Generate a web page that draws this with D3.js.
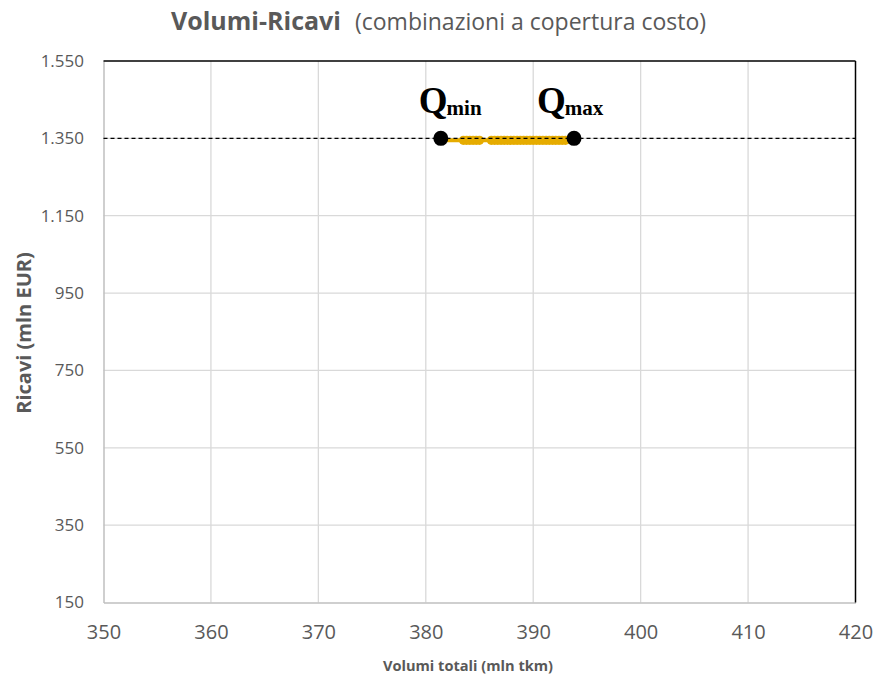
<!DOCTYPE html>
<html><head><meta charset="utf-8">
<script src="https://cdn.jsdelivr.net/npm/d3@7"></script>
<style>body{margin:0;background:#fff;}</style>
</head><body>
<svg id="c" width="875" height="677"></svg>
<script>
const xTicks = [350,360,370,380,390,400,410,420];
const yTicks = [150,350,550,750,950,1150,1350,1550];
const yTickLabels = ["150","350","550","750","950","1.150","1.350","1.550"];
const costLevel = 1350;
const comboX = [381.6,382.0,382.4,382.8,383.2,383.5,383.8,384.1,384.4,384.7,385.0,386.1,386.4,386.7,387.0,387.3,387.6,387.9,388.2,388.5,388.8,389.1,389.4,389.7,390.0,390.3,390.6,390.9,391.2,391.5,391.8,392.1,392.4,392.7,393.0,393.3];
const comboY = [1345,1345,1345,1345,1345,1345,1345,1345,1345,1345,1345,1345,1345,1345,1345,1345,1345,1345,1345,1345,1345,1345,1345,1345,1345,1345,1345,1345,1345,1345,1345,1345,1345,1345,1345,1345];
const comboMarker = [0,0,0,0,0,1,1,1,1,1,1,1,1,1,1,1,1,1,1,1,1,1,1,1,1,1,1,1,1,1,1,1,1,1,1,0];
const extremes = [{name:"min", x:381.4, y:1350},{name:"max", x:393.8, y:1350}];

const svg = d3.select("#c");
const L=103.5, R=855.5, T=61, B=602.5;
const x = d3.scaleLinear().domain([350,420]).range([L,R]);
const y = d3.scaleLinear().domain([150,1550]).range([B,T]);
const grid="#d9d9d9", txt="#595959";
const labelDx = {min:-22, max:-37};

// gridlines
svg.append("g").selectAll("line").data(xTicks.filter(d=>d>350&&d<420)).join("line")
  .attr("x1",d=>x(d)).attr("x2",d=>x(d)).attr("y1",T).attr("y2",B)
  .attr("stroke",grid).attr("stroke-width",1.3);
svg.append("g").selectAll("line").data(yTicks.filter(d=>d>150&&d<1550)).join("line")
  .attr("x1",L).attr("x2",R).attr("y1",d=>y(d)).attr("y2",d=>y(d))
  .attr("stroke",grid).attr("stroke-width",1.3);

// axes
const xAxis = d3.axisBottom(x).tickValues(xTicks).tickSize(0).tickPadding(22);
const gx = svg.append("g").attr("transform",`translate(0,${B})`).call(xAxis);
gx.attr("font-size",null);
gx.select(".domain").attr("stroke","#bfbfbf").attr("stroke-width",1.5);
gx.selectAll("text").attr("fill",txt).attr("font-family","Open Sans, sans-serif").attr("font-size",20);

const yAxis = d3.axisLeft(y).tickValues(yTicks).tickFormat((d,i)=>yTickLabels[i]).tickSize(0).tickPadding(19.5);
const gy = svg.append("g").attr("transform",`translate(${L},0)`).call(yAxis);
gy.attr("font-size",null);
gy.select(".domain").attr("stroke","#bfbfbf").attr("stroke-width",1.5);
gy.selectAll("text").attr("fill",txt).attr("font-family","Open Sans, sans-serif").attr("font-size",17);

// top & right border
svg.append("line").attr("x1",L).attr("x2",R).attr("y1",T).attr("y2",T).attr("stroke","#000").attr("stroke-width",1.5);
svg.append("line").attr("x1",R).attr("x2",R).attr("y1",T).attr("y2",B).attr("stroke","#000").attr("stroke-width",1.5);

// combinations (orange)
const pts = comboX.map((v,i)=>({x:v,y:comboY[i],m:comboMarker[i]}));
svg.append("path").datum(pts)
  .attr("d",d3.line().x(d=>x(d.x)).y(d=>y(d.y)))
  .attr("fill","none").attr("stroke","#e6ac00").attr("stroke-width",4);
svg.append("g").selectAll("circle").data(pts.filter(d=>d.m)).join("circle")
  .attr("cx",d=>x(d.x)).attr("cy",d=>y(d.y)).attr("r",4.6).attr("fill","#e6ac00");

// cost dashed line
svg.append("line").attr("x1",L).attr("x2",R).attr("y1",y(costLevel)).attr("y2",y(costLevel))
  .attr("stroke","#000").attr("stroke-width",1.3).attr("stroke-dasharray","4,3");

// extremes
svg.append("g").selectAll("circle").data(extremes).join("circle")
  .attr("cx",d=>x(d.x)).attr("cy",d=>y(d.y)).attr("r",7.5).attr("fill","#000");
const lab = svg.append("g").selectAll("text").data(extremes).join("text")
  .attr("x",d=>x(d.x)+labelDx[d.name]).attr("y",d=>y(d.y)-25)
  .attr("font-family","Liberation Serif, serif").attr("font-weight","bold").attr("fill","#000");
lab.append("tspan").attr("font-size",37).text("Q");
lab.append("tspan").attr("font-size",21).attr("dy",2).attr("dx",-1).text(d=>d.name);

// title
const title = svg.append("text").attr("x",171).attr("y",30).attr("fill",txt).attr("font-family","Open Sans, sans-serif");
title.append("tspan").attr("font-size",25).attr("font-weight","bold").text("Volumi-Ricavi");
title.append("tspan").attr("font-size",23).attr("dx",14).text("(combinazioni a copertura costo)");

// axis titles
svg.append("text").attr("x",468).attr("y",671).attr("text-anchor","middle").attr("fill",txt)
  .attr("font-family","Open Sans, sans-serif").attr("font-weight","bold").attr("font-size",14.6).text("Volumi totali (mln tkm)");
svg.append("text").attr("transform","translate(31,333) rotate(-90)").attr("text-anchor","middle").attr("fill",txt)
  .attr("font-family","Open Sans, sans-serif").attr("font-weight","bold").attr("font-size",20).text("Ricavi (mln EUR)");
</script>
</body></html>
